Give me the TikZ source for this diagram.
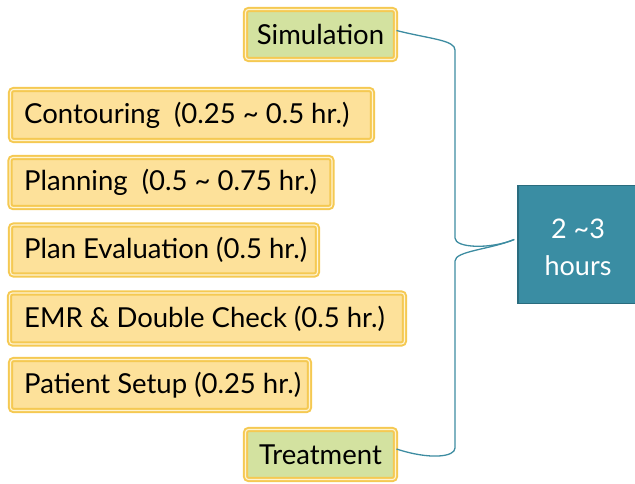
\documentclass[tikz,border=0pt]{standalone}
\usepackage{fontspec}
\setmainfont{Lato}
\definecolor{goldline}{HTML}{F5C952}
\definecolor{cream}{HTML}{FFF4D2}
\definecolor{stepfill}{HTML}{FDE19A}
\definecolor{phasefill}{HTML}{D3E2A0}
\definecolor{tealfill}{HTML}{3A8DA3}
\definecolor{tealedge}{HTML}{2A6C7E}
\definecolor{bracecol}{HTML}{3D8CA1}
\newcommand{\tld}{\textasciitilde}
\begin{document}
\begin{tikzpicture}[x=1pt,y=-1pt,
  framebox/.style={draw=goldline, double=cream, double distance=1.1pt,
    line width=2pt, rounded corners=3pt, inner sep=0pt},
  stepbox/.style={framebox, fill=stepfill},
  phasebox/.style={framebox, fill=phasefill},
  label/.style={anchor=west, inner sep=0pt, font=\fontsize{27.5}{32}\selectfont},
  phaselabel/.style={inner sep=0pt, font=\fontsize{27.5}{32}\selectfont},
  brace/.style={draw=bracecol, line width=1.3pt}
]
\clip (0,0) rectangle (635,483);

% phase boxes (green)
\node[phasebox, minimum width=150pt, minimum height=50pt] (sim) at (320.5,34.5) {};
\node[phaselabel] (simt) at (sim.center) {Simulation};
\node[phasebox, minimum width=150pt, minimum height=50pt] (treat) at (320.5,454.5) {};
\node[phaselabel] (treatt) at (treat.center) {Treatment};

% step boxes (yellow)
\node[stepbox, minimum width=362pt, minimum height=51pt] (cont) at (191.5,115) {};
\node[label] (contt) at (24,115) {Contouring\ \ (0.25 \tld\ 0.5 hr.)};
\node[stepbox, minimum width=322pt, minimum height=50pt] (plan) at (171,182.5) {};
\node[label] (plant) at (24,182.5) {Planning\ \ (0.5 \tld\ 0.75 hr.)};
\node[stepbox, minimum width=307pt, minimum height=50pt] (eval) at (164,250) {};
\node[label] (evalt) at (24,250) {Plan Evaluation (0.5 hr.)};
\node[stepbox, minimum width=395pt, minimum height=51pt] (emr) at (207,318.5) {};
\node[label] (emrt) at (24,318.5) {EMR \& Double Check (0.5 hr.)};
\node[stepbox, minimum width=299pt, minimum height=51pt] (setup) at (160,385) {};
\node[label] (setupt) at (24,385) {Patient Setup (0.25 hr.)};

% total duration box
\node[draw=tealedge, line width=1.5pt, fill=tealfill, minimum width=124pt,
  minimum height=118pt, inner sep=0pt] (total) at (580,244.5) {};
\node[text=white, align=center, inner sep=0pt, font=\fontsize{27}{37}\selectfont]
  (totalt) at (578,247) {2 \tld3\\hours};

% curly brace gathering both phases
\coordinate (tip) at ([xshift=-3pt,yshift=5pt]total.west);
\coordinate (simend) at ([yshift=4pt]sim.east);
\coordinate (treatend) at ([yshift=5.5pt]treat.east);
\draw[brace] (simend) .. controls (430,39) and (455,40) .. (455,50)
  -- (455,238) .. controls (455,248) and (490,249.5) .. (tip);
\draw[brace] (tip) .. controls (490,249.5) and (455,251) .. (455,261)
  -- (455,448) .. controls (455,457) and (430,460) .. (treatend);
\end{tikzpicture}
\end{document}
